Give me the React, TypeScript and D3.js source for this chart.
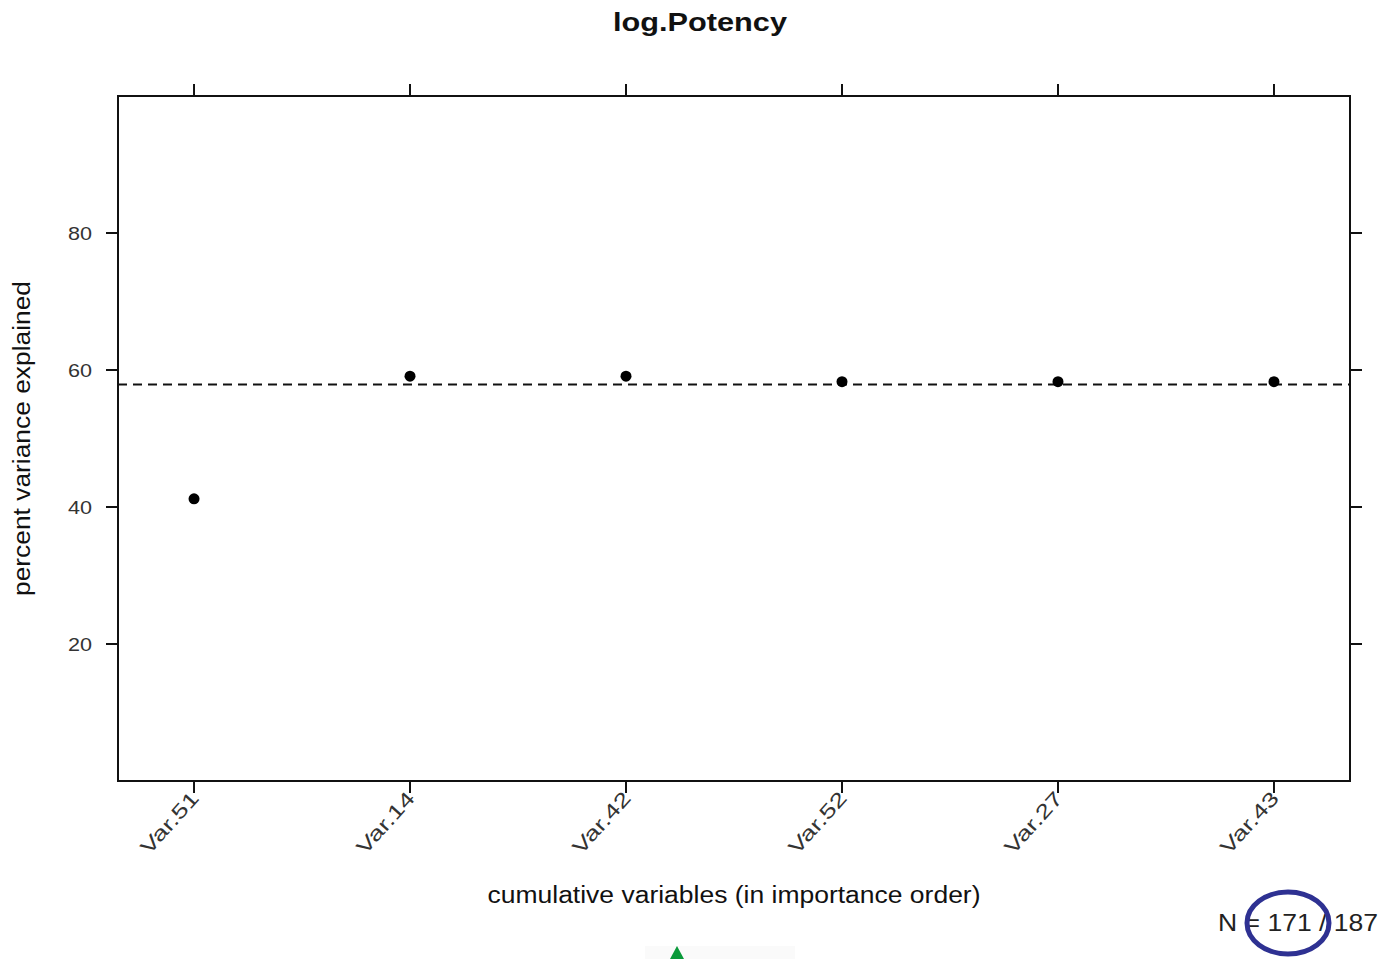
import React from 'react';
import * as d3 from 'd3';

const variables = ['Var.51', 'Var.14', 'Var.42', 'Var.52', 'Var.27', 'Var.43'];
const pctExplained = [41.2, 59.1, 59.1, 58.3, 58.3, 58.3];
const refLine = 57.9;
const yTicks = [20, 40, 60, 80];
const title = 'log.Potency';
const nLabel = 'N = 171 / 187';

const W = 1379;
const H = 959;
const box = { left: 118, right: 1350, top: 96, bottom: 781 };
const font = 'Arial, "Liberation Sans", Helvetica, sans-serif';

export default function App() {
  const x = d3.scalePoint<string>().domain(variables).range([box.left, box.right]).padding(0.352);
  const y = d3.scaleLinear().domain([0, 100]).range([box.bottom, box.top]);
  const tk = 12;

  return (
    <svg width={W} height={H} style={{ position: 'absolute', left: 0, top: 0, background: '#fff' }}
      fontFamily={font}>
      <text x={700} y={31} textAnchor="middle" fontSize={26} fontWeight="bold" fill="#111"
        textLength={174} lengthAdjust="spacingAndGlyphs">{title}</text>

      <rect x={box.left} y={box.top} width={box.right - box.left} height={box.bottom - box.top}
        fill="none" stroke="#111" strokeWidth={2} />

      {variables.map(v => (
        <g key={v}>
          <line x1={x(v)} x2={x(v)} y1={box.top} y2={box.top - tk} stroke="#111" strokeWidth={2} />
          <line x1={x(v)} x2={x(v)} y1={box.bottom} y2={box.bottom + tk} stroke="#111" strokeWidth={2} />
          <text transform={`translate(${x(v)! + 6},${box.bottom + 18}) rotate(-48)`} textAnchor="end"
            fontSize={20} fill="#333" textLength={76} lengthAdjust="spacingAndGlyphs">{v}</text>
        </g>
      ))}

      {yTicks.map(t => (
        <g key={t}>
          <line x1={box.left} x2={box.left - tk} y1={y(t)} y2={y(t)} stroke="#111" strokeWidth={2} />
          <line x1={box.right} x2={box.right + tk} y1={y(t)} y2={y(t)} stroke="#111" strokeWidth={2} />
          <text x={box.left - 26} y={y(t) + 7} textAnchor="end" fontSize={19} fill="#333"
            textLength={24} lengthAdjust="spacingAndGlyphs">{t}</text>
        </g>
      ))}

      <line x1={box.left} x2={box.right} y1={y(refLine)} y2={y(refLine)} stroke="#111"
        strokeWidth={2} strokeDasharray="9,6" />

      {variables.map((v, i) => (
        <circle key={v} cx={x(v)} cy={y(pctExplained[i])} r={5.5} fill="#000" />
      ))}

      <text transform={`translate(30,${(box.top + box.bottom) / 2}) rotate(-90)`} textAnchor="middle"
        fontSize={23} fill="#111" textLength={315} lengthAdjust="spacingAndGlyphs">percent variance explained</text>
      <text x={734} y={903} textAnchor="middle" fontSize={23} fill="#111"
        textLength={493} lengthAdjust="spacingAndGlyphs">
        cumulative variables (in importance order)
      </text>

      <text x={1378} y={931} textAnchor="end" fontSize={24} fill="#222"
        textLength={160} lengthAdjust="spacingAndGlyphs">{nLabel}</text>
      <ellipse cx={1288} cy={923} rx={41} ry={31} fill="none" stroke="#2e3192" strokeWidth={5} />

      <rect x={645} y={946} width={150} height={13} fill="#fafafa" />
      <path d="M677,946 L684,959 L670,959 Z" fill="#0a9a3a" />
    </svg>
  );
}
